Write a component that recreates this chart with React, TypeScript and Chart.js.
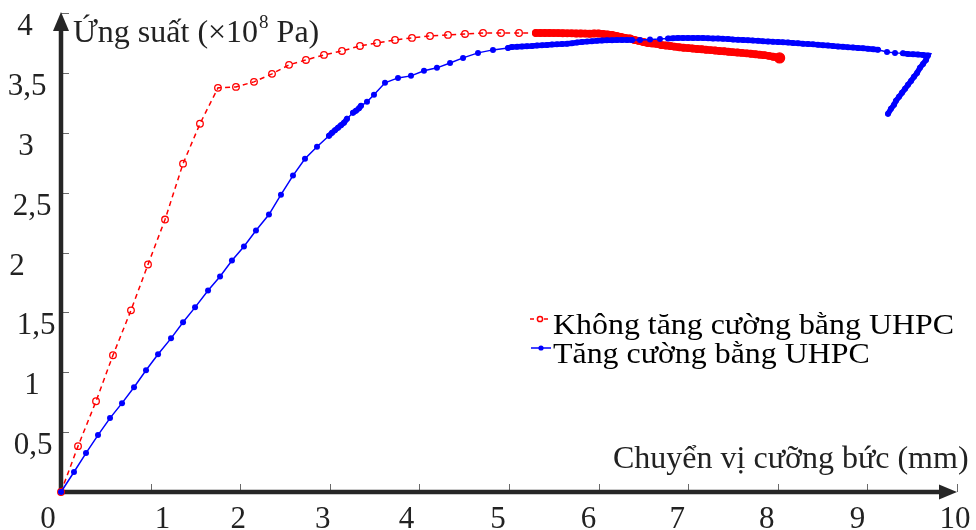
import { useEffect, useRef } from "react";
import { Chart, registerables } from "chart.js";

Chart.register(...registerables);

// ---------- data ----------
const X_TICKS = [1, 2, 3, 4, 5, 6, 7, 8, 9, 10];
const X_TICK_LABELS = ["1", "2", "3", "4", "5", "6", "7", "8", "9", "10"];
const Y_TICKS = [0.5, 1, 1.5, 2, 2.5, 3, 3.5, 4];
const Y_TICK_LABELS = ["0,5", "1", "1,5", "2", "2,5", "3", "3,5", "4"];
const ORIGIN_LABEL = "0";
const X_TITLE = "Chuyển vị cưỡng bức (mm)";
const Y_TITLE_MAIN = "Ứng suất (×10";
const Y_TITLE_SUP = "8";
const Y_TITLE_END = " Pa)";
const SERIES_NAMES = ["Không tăng cường bằng UHPC", "Tăng cường bằng UHPC"];

const redX = [
  0, 0.19, 0.391, 0.58, 0.781, 0.971, 1.161, 1.362, 1.551, 1.752, 1.953, 2.154, 2.355, 2.545, 2.734,
  2.935, 3.136, 3.337, 3.527, 3.728, 3.917, 4.118, 4.319, 4.509, 4.71, 4.911, 5.112,
  5.3, 5.35, 5.4, 5.45, 5.5, 5.55, 5.6, 5.65, 5.7, 5.75, 5.8, 5.85, 5.9, 5.95, 6.0, 6.05, 6.1, 6.15,
  6.2, 6.25, 6.3, 6.35, 6.4, 6.45, 6.5, 6.55, 6.6, 6.65, 6.7, 6.75, 6.8, 6.85, 6.9, 6.95, 7.0, 7.05,
  7.1, 7.15, 7.2, 7.25, 7.3, 7.35, 7.4, 7.45, 7.5, 7.55, 7.6, 7.65, 7.7, 7.75, 7.8, 7.85, 7.9, 7.95,
  8.0, 8.02,
];
const redY = [
  0, 0.383, 0.758, 1.142, 1.517, 1.9, 2.275, 2.742, 3.075, 3.375, 3.383, 3.425, 3.492, 3.567, 3.608,
  3.65, 3.683, 3.725, 3.75, 3.775, 3.792, 3.808, 3.817, 3.825, 3.833, 3.833, 3.833,
  3.833, 3.833, 3.833, 3.833, 3.832, 3.832, 3.831, 3.83, 3.83, 3.829, 3.829, 3.828, 3.827, 3.829, 3.829,
  3.825, 3.821, 3.817, 3.808, 3.8, 3.792, 3.788, 3.775, 3.767, 3.758, 3.75, 3.746, 3.742, 3.733, 3.729,
  3.725, 3.719, 3.714, 3.71, 3.707, 3.703, 3.7, 3.697, 3.693, 3.69, 3.687, 3.683, 3.68, 3.677, 3.673,
  3.67, 3.667, 3.663, 3.66, 3.656, 3.652, 3.648, 3.642, 3.635, 3.629, 3.625,
];

const blueX = [
  0, 0.145, 0.279, 0.413, 0.547, 0.681, 0.815, 0.949, 1.083, 1.228, 1.362, 1.496, 1.641, 1.775, 1.908,
  2.042, 2.176, 2.321, 2.455, 2.589, 2.723, 2.857, 2.991, 3.025, 3.058, 3.092, 3.125, 3.158, 3.192,
  3.259, 3.292, 3.326, 3.348, 3.415, 3.493, 3.616, 3.761, 3.906, 4.051, 4.196, 4.342, 4.487, 4.654,
  4.821, 4.989,
  5.033, 5.089, 5.145, 5.201, 5.257, 5.313, 5.368, 5.424, 5.48, 5.536, 5.592, 5.647, 5.703, 5.759,
  5.815, 5.871, 5.926, 5.982, 6.038, 6.094, 6.15, 6.205, 6.261, 6.317, 6.373,
  6.462, 6.574, 6.685,
  6.775, 6.83, 6.886, 6.942, 6.998, 7.054, 7.109, 7.165, 7.221, 7.277, 7.333, 7.388, 7.444, 7.5,
  7.556, 7.612, 7.667, 7.723, 7.779, 7.835, 7.891, 7.946, 8.002, 8.058, 8.114, 8.17, 8.225, 8.281,
  8.337, 8.393, 8.449, 8.504, 8.56, 8.616, 8.672, 8.728, 8.783, 8.839, 8.895, 8.951, 9.007, 9.063,
  9.118,
  9.219, 9.308, 9.397,
  9.453, 9.509, 9.565, 9.621, 9.676,
  9.654, 9.621, 9.587, 9.554, 9.52, 9.487, 9.453, 9.42, 9.386, 9.353, 9.319, 9.297, 9.263, 9.23,
];
const blueY = [
  0, 0.167, 0.325, 0.475, 0.617, 0.742, 0.875, 1.017, 1.15, 1.283, 1.417, 1.542, 1.683, 1.8, 1.933,
  2.05, 2.183, 2.317, 2.483, 2.642, 2.783, 2.883, 2.975, 3.0, 3.021, 3.042, 3.063, 3.083, 3.117,
  3.167, 3.183, 3.204, 3.225, 3.258, 3.317, 3.417, 3.458, 3.475, 3.517, 3.542, 3.583, 3.625, 3.667,
  3.692, 3.708,
  3.717, 3.718, 3.721, 3.723, 3.725, 3.728, 3.73, 3.733, 3.736, 3.738, 3.742, 3.744, 3.748, 3.753,
  3.757, 3.761, 3.765, 3.768, 3.77, 3.772, 3.773, 3.775, 3.775, 3.775, 3.775,
  3.775, 3.779, 3.783,
  3.788, 3.789, 3.792, 3.792, 3.792, 3.792, 3.792, 3.792, 3.79, 3.788, 3.787, 3.784, 3.782, 3.779,
  3.777, 3.775, 3.773, 3.77, 3.768, 3.765, 3.763, 3.76, 3.758, 3.755, 3.753, 3.75, 3.748, 3.744,
  3.741, 3.738, 3.734, 3.731, 3.728, 3.724, 3.721, 3.718, 3.714, 3.711, 3.708, 3.705, 3.702, 3.698,
  3.693,
  3.675, 3.667, 3.663,
  3.658, 3.656, 3.653, 3.65, 3.646,
  3.608, 3.575, 3.542, 3.5, 3.467, 3.433, 3.4, 3.367, 3.333, 3.3, 3.267, 3.233, 3.2, 3.158,
];

// ---------- styling ----------
const RED = "#ff0000";
const BLUE = "#0000ff";
const AXIS = "#262626";
const SERIF = '"Liberation Serif", "DejaVu Serif", serif';

const toPoints = (xs: number[], ys: number[]) => xs.map((x, i) => ({ x, y: ys[i] }));

const isDense = (c: any) => Math.hypot(c.p1.x - c.p0.x, c.p1.y - c.p0.y) < 6.5;

const decorPlugin = {
  id: "decor",
  beforeDatasetsDraw(chart: any) {
    const { ctx } = chart;
    const xs = chart.scales.x;
    const ys = chart.scales.y;
    const x0 = xs.getPixelForValue(0);
    const y0 = ys.getPixelForValue(0);
    const xEnd = xs.getPixelForValue(10);
    const yEnd = ys.getPixelForValue(4);
    ctx.save();
    // ticks
    ctx.strokeStyle = "#6a6a6a";
    ctx.lineWidth = 1;
    X_TICKS.forEach((v) => {
      const px = Math.round(xs.getPixelForValue(v)) + 0.5;
      ctx.beginPath();
      ctx.moveTo(px, y0);
      ctx.lineTo(px, y0 - 8);
      ctx.stroke();
    });
    Y_TICKS.forEach((v) => {
      const py = Math.round(ys.getPixelForValue(v)) + 0.5;
      ctx.beginPath();
      ctx.moveTo(x0, py);
      ctx.lineTo(x0 + 8, py);
      ctx.stroke();
    });
    // axis lines
    ctx.strokeStyle = AXIS;
    ctx.fillStyle = AXIS;
    ctx.lineWidth = 4.5;
    ctx.beginPath();
    ctx.moveTo(x0 - 2, y0);
    ctx.lineTo(xEnd - 15, y0);
    ctx.stroke();
    ctx.beginPath();
    ctx.moveTo(x0, y0 + 2);
    ctx.lineTo(x0, yEnd + 16);
    ctx.stroke();
    // arrow heads
    ctx.beginPath();
    ctx.moveTo(xEnd, y0);
    ctx.lineTo(xEnd - 18, y0 - 7.5);
    ctx.lineTo(xEnd - 18, y0 + 7.5);
    ctx.closePath();
    ctx.fill();
    ctx.beginPath();
    ctx.moveTo(x0, yEnd - 1);
    ctx.lineTo(x0 - 8, yEnd + 18);
    ctx.lineTo(x0 + 8, yEnd + 18);
    ctx.closePath();
    ctx.fill();

    // tick labels
    ctx.fillStyle = "#222";
    ctx.font = `31px ${SERIF}`;
    ctx.textAlign = "center";
    ctx.textBaseline = "alphabetic";
    const xNudge = [12, -2, -7, -13, -11, -10, -11, -11, -10, -2];
    X_TICKS.forEach((v, i) => {
      ctx.fillText(X_TICK_LABELS[i], xs.getPixelForValue(v) + xNudge[i], y0 + 36);
    });
    const yNudge = [28, 29, 25, 44, 29, 35, 34, 36];
    Y_TICKS.forEach((v, i) => {
      ctx.fillText(Y_TICK_LABELS[i], x0 - yNudge[i], ys.getPixelForValue(v) + 22);
    });
    ctx.fillText(ORIGIN_LABEL, x0 - 13, y0 + 36);

    // axis titles
    ctx.textAlign = "left";
    ctx.font = `32px ${SERIF}`;
    ctx.fillText(X_TITLE, 613, y0 - 24);
    const tx = x0 + 12;
    const tb = yEnd + 29;
    ctx.fillText(Y_TITLE_MAIN, tx, tb);
    const w1 = ctx.measureText(Y_TITLE_MAIN).width;
    ctx.font = `19px ${SERIF}`;
    ctx.fillText(Y_TITLE_SUP, tx + w1 + 1, tb - 14);
    const w2 = ctx.measureText(Y_TITLE_SUP).width;
    ctx.font = `32px ${SERIF}`;
    ctx.fillText(Y_TITLE_END, tx + w1 + w2 + 1, tb);
    ctx.restore();
  },
  afterDatasetsDraw(chart: any) {
    const { ctx } = chart;
    ctx.save();
    // legend samples
    ctx.lineWidth = 1.5;
    ctx.strokeStyle = RED;
    ctx.setLineDash([4, 3]);
    ctx.beginPath();
    ctx.moveTo(530, 319);
    ctx.lineTo(550, 319);
    ctx.stroke();
    ctx.setLineDash([]);
    ctx.fillStyle = "#fff";
    ctx.beginPath();
    ctx.arc(540, 319, 2.6, 0, Math.PI * 2);
    ctx.fill();
    ctx.stroke();
    ctx.strokeStyle = BLUE;
    ctx.beginPath();
    ctx.moveTo(531, 348);
    ctx.lineTo(551, 348);
    ctx.stroke();
    ctx.fillStyle = BLUE;
    ctx.beginPath();
    ctx.arc(541, 348, 2.6, 0, Math.PI * 2);
    ctx.fill();
    // legend texts
    ctx.fillStyle = "#000";
    ctx.font = `29px ${SERIF}`;
    ctx.textAlign = "left";
    ctx.textBaseline = "alphabetic";
    [334, 363].forEach((by, i) => {
      ctx.save();
      ctx.translate(553, by);
      ctx.scale(1.1, 1);
      ctx.fillText(SERIES_NAMES[i], 0, 0);
      ctx.restore();
    });
    ctx.restore();
  },
};

export default function App() {
  const ref = useRef<HTMLCanvasElement | null>(null);
  useEffect(() => {
    document.body.style.margin = "0";
    const canvas = ref.current;
    if (!canvas) return;
    const lastRed = redX.length - 1;
    const chart = new Chart(canvas, {
      type: "scatter",
      data: {
        datasets: [
          {
            label: SERIES_NAMES[0],
            data: toPoints(redX, redY),
            showLine: true,
            order: 1,
            clip: false as any,
            borderColor: RED,
            borderWidth: 1.5,
            borderDash: [5, 4],
            pointStyle: "circle",
            pointRadius: (c: any) => (c.dataIndex === lastRed ? 5 : 3.3),
            pointBorderWidth: 1.3,
            pointBorderColor: RED,
            pointBackgroundColor: (c: any) => (c.dataIndex === lastRed ? RED : "rgba(0,0,0,0)"),
            segment: {
              borderWidth: (c: any) => (isDense(c) ? 7.5 : 1.5),
              borderDash: (c: any) => (isDense(c) ? [] : [5, 4]),
              borderCapStyle: (c: any) => (isDense(c) ? "round" : "butt"),
            },
          } as any,
          {
            label: SERIES_NAMES[1],
            data: toPoints(blueX, blueY),
            showLine: true,
            order: 0,
            clip: false as any,
            borderColor: BLUE,
            borderWidth: 1.5,
            pointStyle: "circle",
            pointRadius: 3,
            pointBorderWidth: 0,
            pointBackgroundColor: BLUE,
            segment: {
              borderWidth: (c: any) => (isDense(c) ? 5.5 : 1.5),
              borderCapStyle: (c: any) => (isDense(c) ? "round" : "butt"),
            },
          } as any,
        ],
      },
      options: {
        responsive: false,
        animation: false,
        devicePixelRatio: 1,
        layout: { padding: { left: 61, right: 19, top: 13, bottom: 38 } },
        plugins: { legend: { display: false }, tooltip: { enabled: false } },
        scales: {
          x: { type: "linear", min: 0, max: 10, display: false },
          y: { type: "linear", min: 0, max: 4, display: false },
        },
      },
      plugins: [decorPlugin],
    });
    return () => chart.destroy();
  }, []);
  return (
    <div style={{ position: "fixed", left: 0, top: 0, width: 976, height: 530, background: "#fff" }}>
      <canvas ref={ref} width={976} height={530} style={{ display: "block" }} />
    </div>
  );
}
